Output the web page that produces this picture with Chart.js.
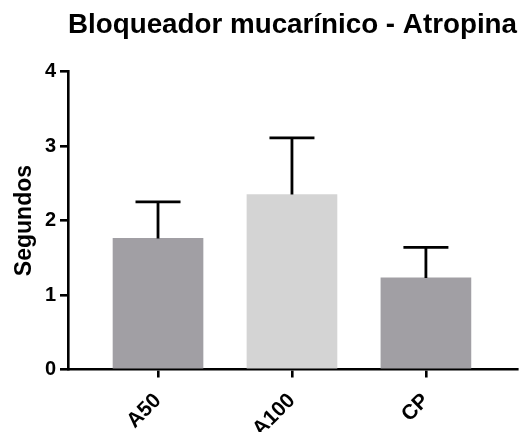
<!DOCTYPE html>
<html>
<head>
<meta charset="utf-8">
<script src="https://cdn.jsdelivr.net/npm/chart.js@4.4.0/dist/chart.umd.min.js"></script>
<style>
  html, body { margin: 0; padding: 0; background: #fff; }
  #chart { display: block; }
</style>
</head>
<body>
<canvas id="chart" width="526" height="432"></canvas>
<script>
const categories = ["A50", "A100", "CP"];
const means = [1.76, 2.35, 1.23];
const errors = [0.49, 0.76, 0.41];
const yTicks = [0, 1, 2, 3, 4];
const barColors = ["#a19fa4", "#d4d4d4", "#a19fa4"];

Chart.defaults.font.family = "'Liberation Sans', Arial, sans-serif";
Chart.defaults.font.weight = "bold";
Chart.defaults.color = "#000";

// draws the upper half of each error bar on top of the bars
const errorBars = {
  id: "errorBars",
  afterDatasetsDraw(chart) {
    const ctx = chart.ctx;
    const y = chart.scales.y;
    const bars = chart.getDatasetMeta(0).data;
    ctx.save();
    ctx.strokeStyle = "#000";
    ctx.lineWidth = 2.8;
    bars.forEach((bar, i) => {
      const top = y.getPixelForValue(means[i] + errors[i]);
      const base = y.getPixelForValue(means[i]);
      const half = bar.width / 4;
      ctx.beginPath();
      ctx.moveTo(bar.x, base);
      ctx.lineTo(bar.x, top);
      ctx.moveTo(bar.x - half, top);
      ctx.lineTo(bar.x + half, top);
      ctx.stroke();
    });
    ctx.restore();
  }
};

const axisLine = { display: true, color: "#000", width: 2.6 };
const tickMarks = { drawOnChartArea: false, drawTicks: true, tickLength: 8, color: "#000", lineWidth: 2.6, offset: false };

new Chart(document.getElementById("chart"), {
  type: "bar",
  data: {
    datasets: [{
      data: means.map((m, i) => ({ x: i, y: m })),
      backgroundColor: barColors,
      borderWidth: 0,
      barThickness: 90
    }]
  },
  options: {
    responsive: false,
    animation: false,
    layout: { padding: { left: 0, right: 9, top: 0, bottom: 0 } },
    plugins: {
      legend: { display: false },
      tooltip: { enabled: false },
      title: {
        display: true,
        text: "Bloqueador mucarínico - Atropina",
        fullSize: false,
        font: { size: 28, weight: "bold" },
        padding: { top: 8, bottom: 30 }
      }
    },
    scales: {
      x: {
        type: "linear",
        min: -0.672,
        max: 2.68,
        offset: false,
        z: 1,
        border: axisLine,
        grid: tickMarks,
        afterBuildTicks: s => { s.ticks = categories.map((c, i) => ({ value: i })); },
        afterFit: s => { s.height = 62.5; },
        ticks: {
          autoSkip: false,
          minRotation: 45,
          maxRotation: 45,
          padding: 11,
          font: { size: 21, weight: "bold" },
          callback: v => categories[v]
        }
      },
      y: {
        min: 0,
        max: 4,
        z: 1,
        border: axisLine,
        grid: tickMarks,
        afterBuildTicks: s => { s.ticks = yTicks.map(v => ({ value: v })); },
        afterFit: s => { s.width = 68; },
        ticks: {
          padding: 4,
          font: { size: 20, weight: "bold" }
        },
        title: {
          display: true,
          text: "Segundos",
          font: { size: 23, weight: "bold" },
          padding: { top: 11, bottom: 0 }
        }
      }
    }
  },
  plugins: [errorBars]
});
</script>
</body>
</html>
